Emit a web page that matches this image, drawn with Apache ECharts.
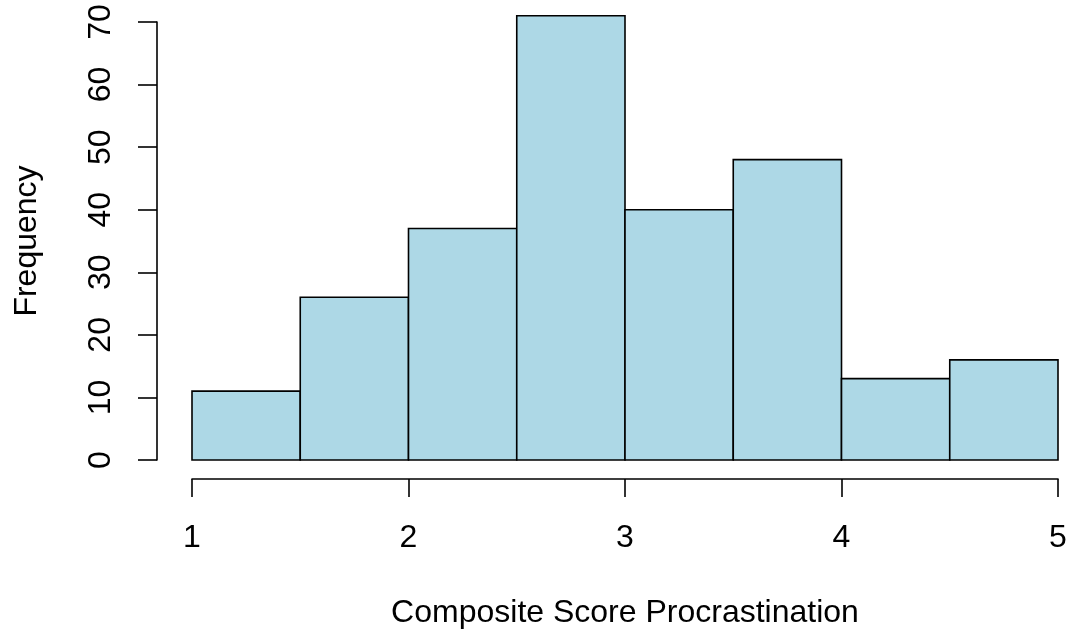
<!DOCTYPE html>
<html>
<head>
<meta charset="utf-8">
<script src="https://cdn.jsdelivr.net/npm/echarts@6/dist/echarts.min.js"></script>
<style>html,body{margin:0;padding:0;background:#fff}#c{width:1072px;height:634px}</style>
</head>
<body>
<div id="c"></div>
<script>
const binStarts = [1, 1.5, 2, 2.5, 3, 3.5, 4, 4.5];
const binEnds = [1.5, 2, 2.5, 3, 3.5, 4, 4.5, 5];
const counts = [11, 26, 37, 71, 40, 48, 13, 16];
const xTicks = [1, 2, 3, 4, 5];
const yTicks = [0, 10, 20, 30, 40, 50, 60, 70];

const data = binStarts.map((s, i) => [s, binEnds[i], counts[i]]);
const font = 'Liberation Sans, Arial, sans-serif';
const chart = echarts.init(document.getElementById('c'));
chart.setOption({
  animation: false,
  backgroundColor: '#fff',
  grid: { left: 192, right: 14, top: 22, bottom: 173.5 },
  xAxis: {
    type: 'value', min: 1, max: 5, interval: 1, offset: 19,
    name: 'Composite Score Procrastination', nameLocation: 'middle', nameGap: 118,
    nameTextStyle: { fontFamily: font, fontSize: 32, color: '#000' },
    axisLine: { show: true, onZero: false, lineStyle: { color: '#000', width: 1.6 } },
    axisTick: { show: true, length: 18, inside: false, lineStyle: { color: '#000', width: 1.6 } },
    axisLabel: { fontFamily: font, fontSize: 32, color: '#000', margin: 43,
      formatter: v => xTicks.includes(v) ? String(v) : '' },
    splitLine: { show: false }
  },
  yAxis: {
    type: 'value', min: 0, max: 70, interval: 10, offset: 35,
    name: 'Frequency', nameLocation: 'middle', nameGap: 114, nameRotate: 90,
    nameTextStyle: { fontFamily: font, fontSize: 32, color: '#000' },
    axisLine: { show: true, onZero: false, lineStyle: { color: '#000', width: 1.6 } },
    axisTick: { show: true, length: 19, lineStyle: { color: '#000', width: 1.6 } },
    axisLabel: { fontFamily: font, fontSize: 32, color: '#000', rotate: 90, margin: 40,
      formatter: v => yTicks.includes(v) ? String(v) : '' },
    splitLine: { show: false }
  },
  series: [{
    type: 'custom',
    data: data,
    encode: { x: [0, 1], y: 2 },
    renderItem: function (params, api) {
      const p0 = api.coord([api.value(0), 0]);
      const p1 = api.coord([api.value(1), api.value(2)]);
      return {
        type: 'rect',
        shape: { x: p0[0], y: p1[1], width: p1[0] - p0[0], height: p0[1] - p1[1] },
        style: { fill: '#ADD8E6', stroke: '#000', lineWidth: 1.6 }
      };
    }
  }]
});
</script>
</body>
</html>
